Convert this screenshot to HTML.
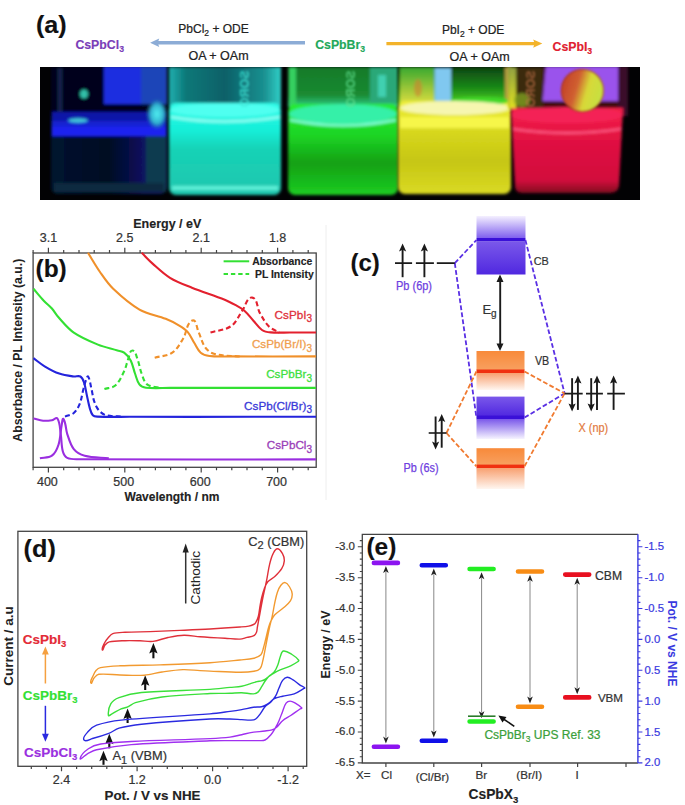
<!DOCTYPE html>
<html><head><meta charset="utf-8"><style>
html,body{margin:0;padding:0;background:#fff;}
svg{display:block;font-family:"Liberation Sans", sans-serif;}
</style></head><body>
<svg width="685" height="805" viewBox="0 0 685 805">

<defs>
  <filter id="blur1" x="-10%" y="-10%" width="120%" height="120%"><feGaussianBlur stdDeviation="0.8"/></filter>
  <filter id="blur2" x="-10%" y="-10%" width="120%" height="120%"><feGaussianBlur stdDeviation="1.6"/></filter>
  <radialGradient id="gCyGlow"><stop offset="0" stop-color="#50f0f0"/><stop offset="0.6" stop-color="#30b0d0"/><stop offset="1" stop-color="#1a50a0" stop-opacity="0"/></radialGradient>
  <linearGradient id="gBlBody" x1="0" y1="0" x2="1" y2="0"><stop offset="0" stop-color="#061430"/><stop offset="0.5" stop-color="#040822"/><stop offset="0.8" stop-color="#081260"/><stop offset="1" stop-color="#0a1a60"/></linearGradient>
  <linearGradient id="gCyUp" x1="0" y1="0" x2="1" y2="0"><stop offset="0" stop-color="#20b0b0"/><stop offset="0.15" stop-color="#0c7878"/><stop offset="0.5" stop-color="#0a6068"/><stop offset="0.85" stop-color="#1a9090"/><stop offset="1" stop-color="#30d0c8"/></linearGradient>
  <linearGradient id="gGrUp" x1="0" y1="0" x2="0" y2="1"><stop offset="0" stop-color="#147a2a"/><stop offset="0.7" stop-color="#1a8a30"/><stop offset="1" stop-color="#30d090"/></linearGradient>
  <linearGradient id="gYeUp" x1="0" y1="0" x2="0" y2="1"><stop offset="0" stop-color="#0e4410"/><stop offset="0.55" stop-color="#1a8a18"/><stop offset="1" stop-color="#58d820"/></linearGradient>
  <linearGradient id="gYeUpL" x1="0" y1="0" x2="0" y2="1"><stop offset="0" stop-color="#38a830"/><stop offset="0.6" stop-color="#a0c838"/><stop offset="1" stop-color="#e0e040"/></linearGradient>
  <linearGradient id="gReEdge" x1="0" y1="0" x2="0" y2="1"><stop offset="0" stop-color="#90a040"/><stop offset="1" stop-color="#e0e020"/></linearGradient>
  <linearGradient id="gCyBody" x1="0" y1="0" x2="0" y2="1"><stop offset="0" stop-color="#30fce8"/><stop offset="0.3" stop-color="#14eed8"/><stop offset="0.5" stop-color="#18d2b6"/><stop offset="1" stop-color="#1cc6ae"/></linearGradient>
  <linearGradient id="gGrBody" x1="0" y1="0" x2="0" y2="1"><stop offset="0" stop-color="#28ec30"/><stop offset="0.35" stop-color="#1cd424"/><stop offset="0.65" stop-color="#12a014"/><stop offset="1" stop-color="#1ccc22"/></linearGradient>
  <linearGradient id="gYeBody" x1="0" y1="0" x2="0" y2="1"><stop offset="0" stop-color="#f0f038"/><stop offset="0.35" stop-color="#d6d61c"/><stop offset="0.65" stop-color="#c6c614"/><stop offset="1" stop-color="#dada24"/></linearGradient>
  <linearGradient id="gReBody" x1="0" y1="0" x2="0" y2="1"><stop offset="0" stop-color="#f42048"/><stop offset="0.4" stop-color="#e01042"/><stop offset="0.85" stop-color="#d20c3c"/><stop offset="1" stop-color="#800820"/></linearGradient>
  <linearGradient id="gBall" x1="0" y1="0" x2="1" y2="0.3"><stop offset="0" stop-color="#c03828"/><stop offset="0.45" stop-color="#d06030"/><stop offset="0.7" stop-color="#d8d838"/><stop offset="1" stop-color="#c8e040"/></linearGradient>
  <linearGradient id="gPurTop" x1="0" y1="0" x2="0" y2="1"><stop offset="0" stop-color="#f4f0ff"/><stop offset="1" stop-color="#8060ee"/></linearGradient>
  <linearGradient id="gPurBody" x1="0" y1="0" x2="0" y2="1"><stop offset="0" stop-color="#7a58ea"/><stop offset="1" stop-color="#5028e0"/></linearGradient>
  <linearGradient id="gPurFade" x1="0" y1="0" x2="0" y2="1"><stop offset="0" stop-color="#7a58ea"/><stop offset="1" stop-color="#f6f4ff"/></linearGradient>
  <linearGradient id="gOraBody" x1="0" y1="0" x2="0" y2="1"><stop offset="0" stop-color="#f88a3a"/><stop offset="1" stop-color="#f8a060"/></linearGradient>
  <linearGradient id="gOraFade" x1="0" y1="0" x2="0" y2="1"><stop offset="0" stop-color="#f8a070"/><stop offset="1" stop-color="#fff6f0"/></linearGradient>
</defs>
<text x="35.9" y="32.6" font-size="23.5" fill="#111" font-weight="bold" text-anchor="start" textLength="30.8" lengthAdjust="spacingAndGlyphs" stroke="#111" stroke-width="0.15">(a)</text>
<text x="75.4" y="48.6" font-size="12.3" fill="#7a3db8" font-weight="bold" text-anchor="start"  stroke="#7a3db8" stroke-width="0.15">CsPbCl<tspan font-size="8.7" dy="3.0">3</tspan></text>
<text x="178.3" y="32.5" font-size="12" fill="#222" font-weight="normal" text-anchor="start"  stroke="#222" stroke-width="0.22">PbCl<tspan font-size="8.5" dy="3.0">2</tspan><tspan dy="-3"> + ODE</tspan></text>
<text x="188.5" y="60" font-size="12.5" fill="#222" font-weight="normal" text-anchor="start"  stroke="#222" stroke-width="0.22">OA + OAm</text>
<line x1="305" y1="42.8" x2="156" y2="42.8" stroke="#8cacd6" stroke-width="3.4"/>
<path d="M150.1,42.8 L159.2,38.6 L157.8,42.8 L159.2,47Z" fill="#8cacd6"/>
<text x="315.2" y="49.0" font-size="12.3" fill="#22a85a" font-weight="bold" text-anchor="start"  stroke="#22a85a" stroke-width="0.15">CsPbBr<tspan font-size="8.7" dy="3.0">3</tspan></text>
<line x1="386.4" y1="43.6" x2="536" y2="43.6" stroke="#f3b32a" stroke-width="3.4"/>
<path d="M542.3,43.6 L533.2,39.4 L534.6,43.6 L533.2,47.8Z" fill="#f3b32a"/>
<text x="441.9" y="34.3" font-size="12" fill="#222" font-weight="normal" text-anchor="start"  stroke="#222" stroke-width="0.22">PbI<tspan font-size="8.5" dy="3.0">2</tspan><tspan dy="-3"> + ODE</tspan></text>
<text x="449.6" y="61" font-size="12.5" fill="#222" font-weight="normal" text-anchor="start"  stroke="#222" stroke-width="0.22">OA + OAm</text>
<text x="552.5" y="51.3" font-size="12.3" fill="#e02030" font-weight="bold" text-anchor="start"  stroke="#e02030" stroke-width="0.15">CsPbI<tspan font-size="8.7" dy="3.0">3</tspan></text>
<g id="photo">
<rect x="40" y="67" width="600" height="133" fill="#020204"/>
<clipPath id="phclip"><rect x="40" y="67" width="600" height="133"/></clipPath>
<g clip-path="url(#phclip)">

    <g filter="url(#blur2)">
      <rect x="51" y="67" width="116" height="50" fill="#03051a"/>
      <rect x="58" y="68" width="4" height="45" fill="#16244e"/>
      <rect x="104" y="66" width="37" height="38" fill="#1c2ee0"/>
      <rect x="141" y="66" width="26" height="38" fill="#1a44b8"/>
      <ellipse cx="84" cy="94" rx="4" ry="4.5" fill="#30c0a8"/>
      <rect x="51" y="112" width="116" height="82" rx="7" fill="url(#gBlBody)"/>
      <rect x="52" y="112" width="114" height="10" fill="#0c18a8"/>
      <rect x="52" y="121" width="114" height="6" fill="#1420d0"/>
      <rect x="52" y="126.5" width="114" height="9.5" fill="#1c24f0"/>
      <ellipse cx="78" cy="120.5" rx="10" ry="2.2" fill="#40c8d8"/>
      <ellipse cx="157" cy="114" rx="11" ry="16" fill="url(#gCyGlow)"/>
      <rect x="146" y="136" width="20" height="56" fill="#0e3a50"/>
      <rect x="54" y="183" width="110" height="9" fill="#0a2a40"/>
    </g>

    <g filter="url(#blur2)">
      <rect x="169" y="67" width="112" height="40" fill="url(#gCyUp)"/>
      <rect x="169" y="103" width="112" height="92" rx="7" fill="url(#gCyBody)"/>
      <ellipse cx="225" cy="110" rx="55" ry="7" fill="#50fff0"/>
      <path d="M171,117 Q225,126 280,117" stroke="#90fff4" stroke-width="2.5" fill="none"/>
      <rect x="172" y="186" width="106" height="4" fill="#5cf0d8"/>
    </g>
    <text transform="translate(248.8,70.5) rotate(90) scale(1,-1)" font-size="12.5" font-weight="bold" fill="#40e8d8" opacity="0.85" filter="url(#blur1)">SORO</text>
    

    <g filter="url(#blur2)">
      <rect x="288" y="67" width="110" height="40" fill="url(#gGrUp)"/>
      <rect x="289" y="67" width="7" height="40" fill="#34d060"/>
      <rect x="370" y="67" width="28" height="36" fill="#2aa878"/>
      <rect x="378" y="75" width="8" height="22" fill="#40d0b0"/>
      <rect x="288" y="104" width="110" height="91" rx="7" fill="url(#gGrBody)"/>
      <ellipse cx="343" cy="114" rx="54" ry="10" fill="#36f0a8"/>
      <path d="M290,120 Q343,131 396,120" stroke="#80fcd8" stroke-width="2.5" fill="none"/>
    </g>
    <text transform="translate(355,70.5) rotate(90) scale(1,-1)" font-size="12.5" font-weight="bold" fill="#60e090" opacity="0.8" filter="url(#blur1)">SORO</text>
    

    <g filter="url(#blur2)">
      <rect x="398" y="67" width="113" height="38" fill="url(#gYeUp)"/>
      <rect x="400" y="67" width="34" height="38" fill="url(#gYeUpL)"/>
      <ellipse cx="418" cy="88" rx="4" ry="9" fill="#d08030" opacity="0.6"/>
      <rect x="434.5" y="68" width="16.5" height="33" fill="#80c8f0"/>
      <rect x="505" y="67" width="6" height="38" fill="#b09a40"/>
      <rect x="398" y="101" width="113" height="93" rx="7" fill="url(#gYeBody)"/>
      <ellipse cx="480" cy="101" rx="30" ry="4" fill="#40d828"/>
      <ellipse cx="455" cy="108" rx="55" ry="7" fill="#f6f6b0"/>
      <rect x="400" y="117" width="109" height="11" fill="#f6f648"/>
    </g>

    <g filter="url(#blur2)">
      <rect x="511" y="67" width="112" height="42" fill="#400810"/>
      <rect x="515" y="67" width="28" height="41" fill="#3a2a10"/>
      <rect x="508" y="67" width="8" height="42" fill="url(#gReEdge)"/>
      <ellipse cx="522" cy="100" rx="8" ry="7" fill="#80a020" opacity="0.8"/>
      <path d="M545.8,66 H618 V101 H542.7Z" fill="#9a52ec"/>
      <rect x="618" y="66" width="10" height="50" fill="#3a0a2a"/>
      <path d="M511,108 H623 L619,186 Q618,193 610,193 H522 Q515,193 515,186Z" fill="url(#gReBody)"/>
      <ellipse cx="567" cy="115" rx="56" ry="8" fill="#f42456"/>
      <path d="M513,129 Q567,137 621,129" stroke="#ff5c88" stroke-width="2" fill="none"/>
    </g>
    <text transform="translate(535,70.5) rotate(90) scale(1,-1)" font-size="12.5" font-weight="bold" fill="#c07048" opacity="0.75" filter="url(#blur1)">SORO</text>
    <g filter="url(#blur1)">
      <circle cx="582.4" cy="90.5" r="21.5" fill="url(#gBall)"/>
      <circle cx="582.4" cy="90.5" r="21" fill="none" stroke="#a03020" stroke-width="1.5" opacity="0.6"/>
    </g>
</g>
</g>
<line x1="326" y1="225" x2="326" y2="500" stroke="#eeeeee" stroke-width="1"/>
<path d="M33.1,467.3 v3.0 M33.1,253.0 v-3.0 M48.4,467.3 v5.3 M48.4,253.0 v-5.3 M63.7,467.3 v3.0 M63.7,253.0 v-3.0 M79.0,467.3 v3.0 M79.0,253.0 v-3.0 M94.2,467.3 v3.0 M94.2,253.0 v-3.0 M109.5,467.3 v3.0 M109.5,253.0 v-3.0 M124.8,467.3 v5.3 M124.8,253.0 v-5.3 M140.1,467.3 v3.0 M140.1,253.0 v-3.0 M155.4,467.3 v3.0 M155.4,253.0 v-3.0 M170.6,467.3 v3.0 M170.6,253.0 v-3.0 M185.9,467.3 v3.0 M185.9,253.0 v-3.0 M201.2,467.3 v5.3 M201.2,253.0 v-5.3 M216.5,467.3 v3.0 M216.5,253.0 v-3.0 M231.8,467.3 v3.0 M231.8,253.0 v-3.0 M247.0,467.3 v3.0 M247.0,253.0 v-3.0 M262.3,467.3 v3.0 M262.3,253.0 v-3.0 M277.6,467.3 v5.3 M277.6,253.0 v-5.3 M292.9,467.3 v3.0 M292.9,253.0 v-3.0 M308.2,467.3 v3.0 M308.2,253.0 v-3.0" stroke="#444" stroke-width="1.2" fill="none"/>
<rect x="33.1" y="253.0" width="283.09999999999997" height="214.3" fill="none" stroke="#444" stroke-width="1.3"/>
<text x="47.4" y="485.6" font-size="12.5" fill="#333" font-weight="normal" text-anchor="middle"  stroke="#333" stroke-width="0.22">400</text>
<text x="123.8" y="485.6" font-size="12.5" fill="#333" font-weight="normal" text-anchor="middle"  stroke="#333" stroke-width="0.22">500</text>
<text x="200.2" y="485.6" font-size="12.5" fill="#333" font-weight="normal" text-anchor="middle"  stroke="#333" stroke-width="0.22">600</text>
<text x="276.6" y="485.6" font-size="12.5" fill="#333" font-weight="normal" text-anchor="middle"  stroke="#333" stroke-width="0.22">700</text>
<text x="48.4" y="241.6" font-size="12.5" fill="#333" font-weight="normal" text-anchor="middle"  stroke="#333" stroke-width="0.22">3.1</text>
<text x="124.8" y="241.6" font-size="12.5" fill="#333" font-weight="normal" text-anchor="middle"  stroke="#333" stroke-width="0.22">2.5</text>
<text x="201.2" y="241.6" font-size="12.5" fill="#333" font-weight="normal" text-anchor="middle"  stroke="#333" stroke-width="0.22">2.1</text>
<text x="277.6" y="241.6" font-size="12.5" fill="#333" font-weight="normal" text-anchor="middle"  stroke="#333" stroke-width="0.22">1.8</text>
<text x="167.3" y="227.8" font-size="12.5" fill="#222" font-weight="bold" text-anchor="middle"  stroke="#222" stroke-width="0.15">Energy / eV</text>
<text x="172" y="500.7" font-size="12" fill="#222" font-weight="bold" text-anchor="middle"  stroke="#222" stroke-width="0.15">Wavelength / nm</text>
<text transform="translate(22.2,350.2) rotate(-90)" font-size="12.25" font-weight="bold" fill="#222" text-anchor="middle">Absorbance / PL Intensity (a.u.)</text>
<text x="35.5" y="277" font-size="24.5" fill="#111" font-weight="bold" text-anchor="start"  stroke="#111" stroke-width="0.15">(b)</text>
<line x1="223.6" y1="261.3" x2="249.2" y2="261.3" stroke="#33e033" stroke-width="2"/>
<line x1="223.6" y1="274.1" x2="249.2" y2="274.1" stroke="#33e033" stroke-width="2" stroke-dasharray="4.4,2.9"/>
<text x="252.2" y="265.1" font-size="10.4" fill="#222" font-weight="bold" text-anchor="start"  stroke="#222" stroke-width="0.15">Absorbance</text>
<text x="255" y="277.9" font-size="10.4" fill="#222" font-weight="bold" text-anchor="start"  stroke="#222" stroke-width="0.15">PL Intensity</text>
<path d="M141.70,252.80 C145.33,256.40 148.77,260.21 152.60,263.60 C158.21,268.56 163.62,273.89 170.00,277.80 C176.83,281.99 184.46,284.72 191.90,287.70 C202.71,292.03 213.89,295.38 224.70,299.70 C228.51,301.22 232.12,303.20 235.70,305.20 C238.70,306.87 241.82,308.44 244.40,310.70 C247.71,313.59 250.24,317.26 253.20,320.50 C256.11,323.69 258.43,327.57 262.00,330.00 C264.49,331.69 267.70,332.13 270.70,332.40 C277.11,332.97 283.57,332.49 290.00,332.50 C298.67,332.52 307.33,332.50 316.00,332.50" stroke="#e3202e" stroke-width="2.1" fill="none" stroke-linecap="butt"/>
<path d="M210.50,332.60 C217.43,330.40 225.31,330.13 231.30,326.00 C236.47,322.44 238.59,315.77 242.30,310.70 C245.52,306.30 246.69,296.92 252.10,297.60 C257.76,298.31 256.94,307.96 259.80,312.90 C262.42,317.44 264.79,322.29 268.50,326.00 C271.52,329.02 275.83,330.40 279.50,332.60" stroke="#e3202e" stroke-width="2.1" fill="none" stroke-dasharray="5,3" stroke-linecap="butt"/>
<path d="M88.00,252.80 C92.00,259.20 95.67,265.82 100.00,272.00 C104.08,277.83 108.04,283.89 113.20,288.80 C121.30,296.51 129.80,304.05 139.50,309.60 C147.54,314.19 157.10,315.37 165.70,318.80 C170.23,320.61 174.62,322.80 178.80,325.30 C181.95,327.18 185.18,329.15 187.60,331.90 C190.41,335.09 191.94,339.21 194.20,342.80 C196.30,346.14 197.71,350.12 200.70,352.70 C203.07,354.75 206.39,355.61 209.50,356.00 C216.28,356.86 223.17,356.37 230.00,356.40 C258.67,356.51 287.33,356.40 316.00,356.40" stroke="#f0902a" stroke-width="2.1" fill="none" stroke-linecap="butt"/>
<path d="M154.70,357.70 C160.57,356.03 167.24,356.11 172.30,352.70 C177.25,349.37 180.04,343.56 183.20,338.50 C186.77,332.78 186.21,323.17 192.40,320.50 C196.36,318.79 196.65,328.01 198.50,331.90 C200.89,336.92 201.91,342.66 205.10,347.20 C207.21,350.20 210.36,352.85 213.90,353.80 C222.35,356.08 231.30,355.67 240.00,356.60" stroke="#f0902a" stroke-width="2.1" fill="none" stroke-dasharray="5,3" stroke-linecap="butt"/>
<path d="M33.50,288.80 C37.00,292.87 40.34,297.08 44.00,301.00 C46.48,303.65 49.49,305.79 51.90,308.50 C54.34,311.24 56.03,314.59 58.50,317.30 C63.35,322.64 67.87,328.49 73.80,332.60 C81.18,337.71 89.60,341.20 97.90,344.60 C104.21,347.19 110.98,348.48 117.50,350.50 C119.72,351.18 122.24,351.31 124.10,352.70 C126.80,354.73 129.13,357.41 130.70,360.40 C132.83,364.47 133.43,369.18 135.00,373.50 C136.34,377.18 137.00,381.30 139.40,384.40 C140.91,386.34 143.56,387.42 146.00,387.70 C153.95,388.61 162.00,387.89 170.00,387.90 C218.67,387.96 267.33,387.90 316.00,387.90" stroke="#33e033" stroke-width="2.1" fill="none" stroke-linecap="butt"/>
<path d="M104.40,389.00 C108.03,387.83 112.46,388.05 115.30,385.50 C119.44,381.78 121.68,376.31 124.10,371.30 C126.11,367.15 126.79,362.48 128.50,358.20 C129.57,355.53 129.52,350.50 132.40,350.50 C135.42,350.50 136.08,355.39 137.20,358.20 C139.17,363.13 139.72,368.54 141.60,373.50 C143.04,377.31 143.94,381.84 147.10,384.40 C150.32,387.01 155.10,386.60 159.10,387.70" stroke="#33e033" stroke-width="2.1" fill="none" stroke-dasharray="5,3" stroke-linecap="butt"/>
<path d="M33.50,358.20 C37.20,360.90 40.67,363.95 44.60,366.30 C49.27,369.10 54.06,371.81 59.20,373.60 C63.88,375.24 68.88,375.83 73.80,376.50 C75.98,376.80 78.49,375.41 80.40,376.50 C82.38,377.62 83.26,380.15 84.00,382.30 C85.46,386.56 85.91,391.10 86.90,395.50 C87.88,399.87 88.61,404.31 89.90,408.60 C90.59,410.90 91.18,413.42 92.80,415.20 C93.84,416.34 95.66,416.53 97.20,416.60 C108.12,417.07 119.07,416.79 130.00,416.80 C192.00,416.86 254.00,416.80 316.00,416.80" stroke="#2424dc" stroke-width="2.1" fill="none" stroke-linecap="butt"/>
<path d="M65.00,416.60 C67.93,415.40 71.38,415.05 73.80,413.00 C76.48,410.73 78.28,407.46 79.60,404.20 C81.49,399.55 82.01,394.45 83.30,389.60 C84.21,386.18 84.98,382.72 86.20,379.40 C86.60,378.31 87.52,375.50 88.10,376.50 C90.13,380.00 90.33,384.27 91.30,388.20 C92.37,392.54 92.78,397.06 94.20,401.30 C95.23,404.38 96.51,407.51 98.60,410.00 C100.52,412.29 103.01,414.43 105.90,415.20 C111.56,416.70 117.57,416.13 123.40,416.60" stroke="#2424dc" stroke-width="2.1" fill="none" stroke-dasharray="5,3" stroke-linecap="butt"/>
<path d="M33.50,418.50 C36.70,419.23 39.83,420.40 43.10,420.70 C46.03,420.97 49.00,420.65 51.90,420.20 C53.80,419.91 56.36,416.89 57.40,418.50 C60.23,422.88 59.85,428.65 60.70,433.80 C61.65,439.60 61.27,445.63 62.80,451.30 C63.49,453.85 64.80,456.80 67.20,457.90 C71.10,459.69 75.71,459.17 80.00,459.20 C158.67,459.67 237.33,459.33 316.00,459.40" stroke="#9a2ee0" stroke-width="2.1" fill="none" stroke-linecap="butt"/>
<path d="M39.90,458.30 C43.90,457.43 48.60,458.12 51.90,455.70 C55.35,453.18 57.20,448.77 58.50,444.70 C60.52,438.36 60.42,431.53 61.70,425.00 C62.09,422.98 62.41,417.36 63.50,419.10 C66.18,423.38 65.56,429.02 67.20,433.80 C69.00,439.05 70.33,444.76 73.80,449.10 C76.45,452.42 80.59,454.62 84.70,455.70 C92.51,457.75 100.77,457.43 108.80,458.30" stroke="#9a2ee0" stroke-width="2.1" fill="none" stroke-linecap="butt"/>
<text x="312" y="318.8" font-size="11.7" fill="#e0303c" font-weight="normal" text-anchor="end" stroke-width="0.3" stroke="#e0303c">CsPbI<tspan font-size="10" dy="3.6">3</tspan></text>
<text x="312" y="347.9" font-size="11.7" fill="#f0a050" font-weight="normal" text-anchor="end" stroke-width="0.3" stroke="#f0a050">CsPb(Br/I)<tspan font-size="10" dy="3.6">3</tspan></text>
<text x="312" y="378.2" font-size="11.7" fill="#40e040" font-weight="normal" text-anchor="end" stroke-width="0.3" stroke="#40e040">CsPbBr<tspan font-size="10" dy="3.6">3</tspan></text>
<text x="312" y="409.8" font-size="11.7" fill="#3a3ad8" font-weight="normal" text-anchor="end" stroke-width="0.3" stroke="#3a3ad8">CsPb(Cl/Br)<tspan font-size="10" dy="3.6">3</tspan></text>
<text x="312" y="448.9" font-size="11.7" fill="#9a40b8" font-weight="normal" text-anchor="end" stroke-width="0.3" stroke="#9a40b8">CsPbCl<tspan font-size="10" dy="3.6">3</tspan></text>
<text x="350.4" y="270.7" font-size="24" fill="#111" font-weight="bold" text-anchor="start"  stroke="#111" stroke-width="0.15">(c)</text>

    <rect x="476.5" y="216" width="49" height="22" fill="url(#gPurTop)"/>
    <rect x="476.5" y="238" width="49" height="3.6" fill="#3a10d8"/>
    <rect x="476.5" y="241.5" width="49" height="33" fill="url(#gPurBody)"/>
    <rect x="476.5" y="351" width="48" height="19" fill="url(#gOraBody)"/>
    <rect x="476.5" y="369.5" width="48" height="3.6" fill="#f03010"/>
    <rect x="476.5" y="373" width="48" height="17" fill="url(#gOraFade)"/>
    <rect x="476.5" y="396.6" width="48" height="19.5" fill="url(#gPurBody)"/>
    <rect x="476.5" y="415.6" width="48" height="3.6" fill="#3a10d8"/>
    <rect x="476.5" y="419" width="48" height="20" fill="url(#gPurFade)"/>
    <rect x="476.5" y="448.2" width="48" height="17" fill="url(#gOraBody)"/>
    <rect x="476.5" y="464.6" width="48" height="3.6" fill="#f03010"/>
    <rect x="476.5" y="468" width="48" height="21" fill="url(#gOraFade)"/>
    
<path d="M454.8,263.1 L476.5,240 M454.8,263.1 L476.5,418 M525.4,240 L564.6,393.4 M524.5,417.6 L564.6,393.4" stroke="#5a30e4" stroke-dasharray="4.8,2.3" stroke-width="1.8" fill="none"/>
<path d="M446.5,433 L476.4,371.5 M446.5,433 L476.4,466.3 M524.5,371.5 L564.6,393.4 M524.5,466.3 L564.6,393.4" stroke="#f07a30" stroke-dasharray="4.8,2.3" stroke-width="1.8" fill="none"/>
<path d="M395,263.1 H412.1 M415.9,263.1 H433.9 M436.8,263.1 H454.8" stroke="#1a1a1a" stroke-width="1.6"/>
<path d="M564.6,393.6 H582.7 M586,393.6 H602.9 M607.2,393.6 H624.9" stroke="#1a1a1a" stroke-width="1.8"/>
<path d="M428.7,433 H446.5" stroke="#1a1a1a" stroke-width="1.6"/>
<path d="M402.6,277.2 V248.5" stroke="#1a1a1a" stroke-width="1.9" fill="none"/>
<path d="M402.6,243.5 L399.0,251.5 L402.6,249.8 L406.20000000000005,251.5Z" fill="#1a1a1a"/>
<path d="M424.4,277.2 V248.5" stroke="#1a1a1a" stroke-width="1.9" fill="none"/>
<path d="M424.4,243.5 L420.79999999999995,251.5 L424.4,249.8 L428.0,251.5Z" fill="#1a1a1a"/>
<path d="M572.1,378.2 V406.4" stroke="#1a1a1a" stroke-width="1.9" fill="none"/>
<path d="M572.1,411.4 L568.5,403.4 L572.1,405.09999999999997 L575.7,403.4Z" fill="#1a1a1a"/>
<path d="M577.9,409.9 V380.6" stroke="#1a1a1a" stroke-width="1.9" fill="none"/>
<path d="M577.9,375.6 L574.3,383.6 L577.9,381.90000000000003 L581.5,383.6Z" fill="#1a1a1a"/>
<path d="M591.2,378.2 V406.4" stroke="#1a1a1a" stroke-width="1.9" fill="none"/>
<path d="M591.2,411.4 L587.6,403.4 L591.2,405.09999999999997 L594.8000000000001,403.4Z" fill="#1a1a1a"/>
<path d="M597,409.9 V380.6" stroke="#1a1a1a" stroke-width="1.9" fill="none"/>
<path d="M597,375.6 L593.4,383.6 L597,381.90000000000003 L600.6,383.6Z" fill="#1a1a1a"/>
<path d="M613.6,409.9 V380.6" stroke="#1a1a1a" stroke-width="1.9" fill="none"/>
<path d="M613.6,375.6 L610.0,383.6 L613.6,381.90000000000003 L617.2,383.6Z" fill="#1a1a1a"/>
<path d="M435.6,416.5 V444.5" stroke="#1a1a1a" stroke-width="1.9" fill="none"/>
<path d="M435.6,449.5 L432.0,441.5 L435.6,443.2 L439.20000000000005,441.5Z" fill="#1a1a1a"/>
<path d="M441.7,447.7 V418.9" stroke="#1a1a1a" stroke-width="1.9" fill="none"/>
<path d="M441.7,413.9 L438.09999999999997,421.9 L441.7,420.2 L445.3,421.9Z" fill="#1a1a1a"/>
<path d="M500.2,278 V347" stroke="#1a1a1a" stroke-width="1.9"/>
<path d="M500,274.5 L496.5,282 L503.5,282Z M500,351 L496.5,343.5 L503.5,343.5Z" fill="#1a1a1a"/>
<text x="482.4" y="314" font-size="13" fill="#333" font-weight="normal" text-anchor="start"  stroke="#333" stroke-width="0.22">E<tspan font-size="10" dy="3">g</tspan></text>
<text x="533.7" y="265.1" font-size="11.8" fill="#333" font-weight="normal" text-anchor="start" textLength="15.1" lengthAdjust="spacingAndGlyphs" stroke="#333" stroke-width="0.22">CB</text>
<text x="534.9" y="364.6" font-size="12.6" fill="#333" font-weight="normal" text-anchor="start" textLength="14.3" lengthAdjust="spacingAndGlyphs" stroke="#333" stroke-width="0.22">VB</text>
<text x="396" y="290.2" font-size="12" fill="#6e40e0" font-weight="normal" text-anchor="start" textLength="36" lengthAdjust="spacingAndGlyphs" stroke="#6e40e0" stroke-width="0.25">Pb (6p)</text>
<text x="403.5" y="472" font-size="12" fill="#6e40e0" font-weight="normal" text-anchor="start" textLength="35" lengthAdjust="spacingAndGlyphs" stroke="#6e40e0" stroke-width="0.25">Pb (6s)</text>
<text x="578.6" y="431.5" font-size="12.8" fill="#e27a40" font-weight="normal" text-anchor="start" textLength="29.6" lengthAdjust="spacingAndGlyphs" stroke="#e27a40" stroke-width="0.22">X (np)</text>
<path d="M31.3,766.3 v2.8 M46.4,766.3 v2.8 M61.5,766.3 v5 M76.6,766.3 v2.8 M91.7,766.3 v2.8 M106.8,766.3 v2.8 M122.0,766.3 v2.8 M137.1,766.3 v5 M152.2,766.3 v2.8 M167.3,766.3 v2.8 M182.4,766.3 v2.8 M197.5,766.3 v2.8 M212.6,766.3 v5 M227.7,766.3 v2.8 M242.8,766.3 v2.8 M257.9,766.3 v2.8 M273.0,766.3 v2.8 M288.1,766.3 v5 M303.2,766.3 v2.8" stroke="#444" stroke-width="1.2" fill="none"/>
<rect x="17.9" y="531.3" width="288.8" height="235.0" fill="none" stroke="#444" stroke-width="1.3"/>
<text x="61.5" y="784" font-size="12.5" fill="#333" font-weight="normal" text-anchor="middle"  stroke="#333" stroke-width="0.22">2.4</text>
<text x="137.1" y="784" font-size="12.5" fill="#333" font-weight="normal" text-anchor="middle"  stroke="#333" stroke-width="0.22">1.2</text>
<text x="212.6" y="784" font-size="12.5" fill="#333" font-weight="normal" text-anchor="middle"  stroke="#333" stroke-width="0.22">0.0</text>
<text x="288.1" y="784" font-size="12.5" fill="#333" font-weight="normal" text-anchor="middle"  stroke="#333" stroke-width="0.22">-1.2</text>
<text x="152.5" y="800" font-size="13.4" fill="#222" font-weight="bold" text-anchor="middle"  stroke="#222" stroke-width="0.15">Pot. / V vs NHE</text>
<text transform="translate(13.2,646) rotate(-90)" font-size="13.5" font-weight="bold" fill="#222" text-anchor="middle">Current / a.u</text>
<text x="23.6" y="557" font-size="24" fill="#111" font-weight="bold" text-anchor="start" textLength="32.2" lengthAdjust="spacingAndGlyphs" stroke="#111" stroke-width="0.15">(d)</text>
<path d="M185.7,603.5 V552" stroke="#333" stroke-width="1.5"/><path d="M185.7,543.4 L182.6,552.5 L188.8,552.5Z" fill="#222"/>
<text transform="translate(199.8,604.5) rotate(-90)" font-size="13.6" fill="#222">Cathodic</text>
<text x="248.3" y="545.6" font-size="12.8" fill="#333" font-weight="normal" text-anchor="start"  stroke="#333" stroke-width="0.22">C<tspan font-size="11" dy="3.6">2</tspan><tspan dy="-3.6"> (CBM)</tspan></text>
<text x="112.5" y="760" font-size="12.8" fill="#333" font-weight="normal" text-anchor="start"  stroke="#333" stroke-width="0.22">A<tspan font-size="11" dy="3.6">1</tspan><tspan dy="-3.6"> (VBM)</tspan></text>
<text x="22.8" y="643.5" font-size="13.5" fill="#e32a36" font-weight="bold" text-anchor="start"  stroke="#e32a36" stroke-width="0.15">CsPbI<tspan font-size="9.5" dy="3.3">3</tspan></text>
<text x="22.8" y="699.5" font-size="13.5" fill="#33e033" font-weight="bold" text-anchor="start"  stroke="#33e033" stroke-width="0.15">CsPbBr<tspan font-size="9.5" dy="3.3">3</tspan></text>
<text x="24" y="756.5" font-size="13.5" fill="#9a30e0" font-weight="bold" text-anchor="start"  stroke="#9a30e0" stroke-width="0.15">CsPbCl<tspan font-size="9.5" dy="3.3">3</tspan></text>
<path d="M45.4,683.5 V653" stroke="#f5a040" stroke-width="1.5"/><path d="M45.4,646.5 L42,654.5 L48.8,654.5Z" fill="#f5a040"/>
<path d="M45.4,705.8 V735" stroke="#2a2ae0" stroke-width="1.5"/><path d="M45.4,741.8 L42,733.8 L48.8,733.8Z" fill="#2a2ae0"/>
<path d="M153.4,658.3 V649.5" stroke="#111" stroke-width="2.1" fill="none"/>
<path d="M153.4,643.0 L149.20000000000002,653.5 L153.4,651.5 L157.6,653.5Z" fill="#111"/>
<path d="M145.2,690 V681.7" stroke="#111" stroke-width="2.1" fill="none"/>
<path d="M145.2,675.2 L141.0,685.7 L145.2,683.7 L149.39999999999998,685.7Z" fill="#111"/>
<path d="M127.6,723 V715.1" stroke="#111" stroke-width="2.1" fill="none"/>
<path d="M127.6,708.6 L123.39999999999999,719.1 L127.6,717.1 L131.79999999999998,719.1Z" fill="#111"/>
<path d="M109.3,748.3 V740.3" stroke="#111" stroke-width="2.1" fill="none"/>
<path d="M109.3,733.8 L105.1,744.3 L109.3,742.3 L113.5,744.3Z" fill="#111"/>
<path d="M103.5,764.8 V757.3" stroke="#111" stroke-width="2.1" fill="none"/>
<path d="M103.5,750.8 L99.3,761.3 L103.5,759.3 L107.7,761.3Z" fill="#111"/>
<path d="M102.30,649.80 C101.72,647.49 103.46,645.15 104.50,643.00 C105.38,641.17 106.65,639.52 108.00,638.00 C109.43,636.40 110.76,634.38 112.80,633.70 C116.68,632.40 120.91,632.53 125.00,632.30 C133.32,631.83 141.67,631.89 150.00,631.60 C160.00,631.25 170.00,630.83 180.00,630.40 C190.00,629.97 200.01,629.57 210.00,629.00 C220.01,628.43 230.01,627.75 240.00,627.00 C242.91,626.78 245.83,626.63 248.70,626.10 C250.36,625.79 251.99,625.25 253.50,624.50 C254.37,624.07 255.20,623.43 255.70,622.60 C256.84,620.70 257.74,618.64 258.30,616.50 C259.19,613.10 259.38,609.56 260.00,606.10 C260.52,603.19 260.99,600.27 261.70,597.40 C262.43,594.46 263.20,591.52 264.30,588.70 C265.24,586.27 266.10,583.68 267.80,581.70 C269.70,579.50 272.68,578.49 274.80,576.50 C277.34,574.13 279.89,571.66 281.70,568.70 C283.13,566.36 284.13,563.64 284.30,560.90 C284.45,558.50 283.78,555.99 282.60,553.90 C281.39,551.77 279.85,548.70 277.40,548.70 C275.13,548.70 274.02,551.87 273.00,553.90 C271.37,557.16 270.47,560.76 269.60,564.30 C268.47,568.91 267.90,573.64 267.00,578.30 C266.44,581.21 265.81,584.10 265.20,587.00 C264.35,591.04 263.41,595.05 262.60,599.10 C261.68,603.72 260.86,608.37 260.00,613.00 C259.13,617.67 258.25,622.33 257.40,627.00 C257.08,628.73 257.16,630.57 256.50,632.20 C255.96,633.55 255.17,635.00 253.90,635.70 C251.82,636.84 249.30,636.84 247.00,637.40 C244.67,637.97 242.40,639.01 240.00,639.10 C234.99,639.28 230.00,638.47 225.00,638.20 C220.00,637.93 215.00,637.78 210.00,637.50 C206.66,637.31 203.33,637.09 200.00,636.80 C194.66,636.33 189.36,635.08 184.00,635.20 C178.61,635.32 173.28,636.44 168.00,637.50 C162.93,638.51 158.13,640.80 153.00,641.40 C148.69,641.91 144.34,640.91 140.00,640.80 C135.00,640.68 130.00,640.52 125.00,640.70 C119.75,640.89 114.43,640.80 109.30,641.90 C107.57,642.27 106.17,643.68 105.00,645.00 C103.78,646.37 102.75,651.58 102.30,649.80Z" stroke="#e0303a" stroke-width="1.4" fill="none"/>
<path d="M90.90,683.00 C89.81,680.82 92.08,678.26 93.00,676.00 C93.79,674.07 94.61,672.06 96.00,670.50 C97.19,669.17 98.75,667.94 100.50,667.60 C106.91,666.35 113.48,666.10 120.00,665.80 C133.32,665.20 146.67,665.34 160.00,664.90 C176.67,664.34 193.35,663.82 210.00,662.80 C220.02,662.19 230.01,661.02 240.00,660.00 C244.64,659.52 249.37,659.43 253.90,658.30 C256.43,657.67 259.14,656.73 260.90,654.80 C262.58,652.96 262.79,650.18 263.50,647.80 C264.52,644.38 265.23,640.87 266.10,637.40 C266.97,633.93 267.68,630.43 268.70,627.00 C269.32,624.92 270.03,622.84 271.00,620.90 C272.07,618.76 273.15,616.53 274.80,614.80 C277.37,612.11 280.72,610.28 283.50,607.80 C285.93,605.64 288.67,603.66 290.40,600.90 C291.68,598.86 292.34,596.31 292.20,593.90 C292.06,591.45 290.89,589.09 289.60,587.00 C288.51,585.24 287.23,583.02 285.20,582.60 C283.56,582.26 281.96,583.90 280.90,585.20 C279.25,587.22 278.26,589.74 277.40,592.20 C276.22,595.57 275.55,599.11 274.80,602.60 C273.81,607.21 273.18,611.89 272.20,616.50 C271.45,620.03 270.37,623.48 269.60,627.00 C268.34,632.75 267.26,638.53 266.10,644.30 C264.93,650.10 264.03,655.96 262.60,661.70 C262.00,664.11 261.67,666.86 260.00,668.70 C258.52,670.34 256.08,670.92 253.90,671.30 C249.33,672.10 244.64,672.22 240.00,672.20 C229.99,672.15 220.00,671.50 210.00,671.10 C206.67,670.97 203.33,670.79 200.00,670.60 C194.33,670.29 188.67,669.39 183.00,669.60 C175.96,669.86 168.97,670.99 162.00,672.00 C156.07,672.86 150.28,674.77 144.30,675.20 C136.22,675.78 128.10,675.16 120.00,675.00 C112.93,674.86 105.82,673.49 98.80,674.30 C96.79,674.53 95.36,676.50 94.00,678.00 C92.68,679.45 91.78,684.75 90.90,683.00Z" stroke="#f29a30" stroke-width="1.4" fill="none"/>
<path d="M108.40,715.40 C107.97,711.43 108.86,707.13 110.90,703.70 C112.63,700.80 115.83,698.76 119.00,697.60 C126.22,694.96 133.84,693.19 141.50,692.50 C164.26,690.45 187.18,690.71 210.00,689.40 C216.69,689.01 223.33,688.05 230.00,687.40 C233.90,687.02 237.84,686.98 241.70,686.30 C244.50,685.81 247.18,684.74 249.90,683.90 C252.25,683.17 254.53,682.23 256.90,681.60 C258.40,681.20 260.00,681.23 261.50,680.80 C262.72,680.45 263.92,679.96 265.00,679.30 C266.67,678.28 268.09,676.91 269.70,675.80 C271.23,674.74 272.78,673.71 274.40,672.80 C276.28,671.74 278.21,670.75 280.20,669.90 C283.65,668.42 287.29,667.38 290.70,665.80 C293.14,664.67 295.50,663.34 297.70,661.80 C298.22,661.44 299.09,660.70 298.70,660.20 C296.90,657.89 294.51,656.02 292.00,654.50 C289.38,652.91 286.54,650.60 283.50,651.00 C281.57,651.25 281.24,654.20 280.50,656.00 C279.35,658.80 279.00,661.88 277.90,664.70 C276.96,667.13 275.97,669.62 274.40,671.70 C273.18,673.33 271.15,674.17 269.70,675.60 C268.17,677.11 266.76,678.76 265.50,680.50 C264.02,682.54 262.87,684.79 261.50,686.90 C260.37,688.65 259.58,690.73 258.00,692.10 C256.75,693.18 255.05,693.84 253.40,693.90 C249.48,694.04 245.62,692.80 241.70,692.70 C237.80,692.60 233.90,693.20 230.00,693.30 C223.34,693.47 216.66,693.14 210.00,693.50 C193.98,694.37 177.92,695.04 162.00,697.00 C153.00,698.11 144.10,700.15 135.40,702.70 C132.41,703.58 130.07,705.98 127.20,707.20 C125.27,708.02 123.02,707.95 121.10,708.80 C117.92,710.20 115.09,712.30 112.00,713.90 C110.85,714.50 108.54,716.69 108.40,715.40Z" stroke="#3ae03a" stroke-width="1.4" fill="none"/>
<path d="M83.90,739.90 C82.30,737.09 86.28,733.75 88.40,731.30 C90.63,728.72 93.38,726.30 96.60,725.20 C104.49,722.50 112.80,720.93 121.10,720.10 C150.66,717.15 180.39,716.27 210.00,713.90 C216.70,713.36 223.34,712.30 230.00,711.40 C233.91,710.87 237.81,710.28 241.70,709.60 C245.62,708.91 249.47,707.88 253.40,707.30 C256.08,706.91 258.82,707.12 261.50,706.70 C262.72,706.51 263.90,706.05 265.00,705.50 C266.65,704.68 268.22,703.70 269.70,702.60 C271.37,701.36 272.54,699.42 274.40,698.50 C276.94,697.24 279.83,696.84 282.60,696.20 C286.44,695.31 290.49,695.24 294.20,693.90 C297.58,692.68 300.49,690.41 303.60,688.60 C303.99,688.37 305.03,688.12 304.70,687.80 C303.40,686.54 301.49,686.12 300.00,685.10 C297.62,683.48 295.56,681.40 293.10,679.90 C291.26,678.78 289.35,677.20 287.20,677.30 C285.35,677.39 283.72,678.93 282.60,680.40 C280.89,682.62 280.15,685.44 279.00,688.00 C277.78,690.71 276.99,693.63 275.50,696.20 C274.26,698.34 272.64,700.26 270.90,702.00 C269.12,703.78 266.68,704.83 265.00,706.70 C263.14,708.78 262.08,711.47 260.40,713.70 C258.98,715.58 257.65,717.67 255.70,719.00 C254.37,719.91 252.61,720.03 251.00,720.10 C247.90,720.23 244.80,719.76 241.70,719.60 C237.80,719.40 233.90,719.07 230.00,719.00 C223.33,718.87 216.66,718.61 210.00,719.00 C187.14,720.34 164.28,721.90 141.50,724.20 C133.92,724.97 126.33,726.14 119.00,728.20 C115.33,729.23 112.36,732.02 108.80,733.40 C103.49,735.46 98.01,737.06 92.50,738.50 C89.69,739.23 85.34,742.42 83.90,739.90Z" stroke="#2a2ae0" stroke-width="1.4" fill="none"/>
<path d="M80.20,758.30 C81.01,754.17 84.95,751.11 88.40,748.70 C92.00,746.19 96.37,744.73 100.70,744.00 C110.79,742.31 121.08,742.00 131.30,741.50 C157.52,740.20 183.77,739.77 210.00,738.60 C216.68,738.30 223.36,737.92 230.00,737.10 C233.95,736.61 237.81,735.52 241.70,734.70 C245.21,733.96 248.66,732.96 252.20,732.40 C256.44,731.73 260.74,731.56 265.00,731.00 C267.35,730.69 269.75,730.53 272.00,729.80 C273.70,729.25 275.34,728.37 276.70,727.20 C278.92,725.29 280.35,722.58 282.60,720.70 C285.06,718.64 288.04,717.29 290.70,715.50 C293.84,713.39 296.88,711.14 300.00,709.00 C300.58,708.60 302.24,708.45 301.80,707.90 C300.16,705.83 297.69,704.53 295.40,703.20 C293.76,702.25 292.00,701.10 290.10,701.10 C288.59,701.10 286.99,701.98 286.10,703.20 C284.35,705.60 283.72,708.65 282.60,711.40 C281.35,714.48 280.33,717.65 279.00,720.70 C277.96,723.09 276.81,725.44 275.50,727.70 C274.10,730.12 272.71,732.58 270.90,734.70 C269.18,736.71 267.36,738.81 265.00,740.00 C263.26,740.88 261.14,740.57 259.20,740.60 C249.47,740.77 239.73,740.56 230.00,740.60 C223.33,740.63 216.66,740.53 210.00,740.80 C183.76,741.86 157.48,742.55 131.30,744.60 C119.64,745.51 108.04,747.30 96.60,749.70 C93.31,750.39 90.37,752.24 87.40,753.80 C84.89,755.11 79.66,761.08 80.20,758.30Z" stroke="#a030f0" stroke-width="1.4" fill="none"/>
<path d="M362.3,540.6 h-2.5 M362.3,546.8 h-4.5 M362.3,553.0 h-2.5 M362.3,559.1 h-2.5 M362.3,565.3 h-2.5 M362.3,571.5 h-2.5 M362.3,577.7 h-4.5 M362.3,583.8 h-2.5 M362.3,590.0 h-2.5 M362.3,596.2 h-2.5 M362.3,602.4 h-2.5 M362.3,608.5 h-4.5 M362.3,614.7 h-2.5 M362.3,620.9 h-2.5 M362.3,627.1 h-2.5 M362.3,633.2 h-2.5 M362.3,639.4 h-4.5 M362.3,645.6 h-2.5 M362.3,651.8 h-2.5 M362.3,657.9 h-2.5 M362.3,664.1 h-2.5 M362.3,670.3 h-4.5 M362.3,676.5 h-2.5 M362.3,682.6 h-2.5 M362.3,688.8 h-2.5 M362.3,695.0 h-2.5 M362.3,701.1 h-4.5 M362.3,707.3 h-2.5 M362.3,713.5 h-2.5 M362.3,719.7 h-2.5 M362.3,725.8 h-2.5 M362.3,732.0 h-4.5 M362.3,738.2 h-2.5 M362.3,744.4 h-2.5 M362.3,750.5 h-2.5 M362.3,756.7 h-2.5 M362.3,762.9 h-4.5" stroke="#444" stroke-width="1.1" fill="none"/>
<path d="M637.9,540.6 h2.5 M637.9,546.8 h4.5 M637.9,553.0 h2.5 M637.9,559.1 h2.5 M637.9,565.3 h2.5 M637.9,571.5 h2.5 M637.9,577.7 h4.5 M637.9,583.8 h2.5 M637.9,590.0 h2.5 M637.9,596.2 h2.5 M637.9,602.4 h2.5 M637.9,608.5 h4.5 M637.9,614.7 h2.5 M637.9,620.9 h2.5 M637.9,627.1 h2.5 M637.9,633.2 h2.5 M637.9,639.4 h4.5 M637.9,645.6 h2.5 M637.9,651.8 h2.5 M637.9,657.9 h2.5 M637.9,664.1 h2.5 M637.9,670.3 h4.5 M637.9,676.5 h2.5 M637.9,682.6 h2.5 M637.9,688.8 h2.5 M637.9,695.0 h2.5 M637.9,701.1 h4.5 M637.9,707.3 h2.5 M637.9,713.5 h2.5 M637.9,719.7 h2.5 M637.9,725.8 h2.5 M637.9,732.0 h4.5 M637.9,738.2 h2.5 M637.9,744.4 h2.5 M637.9,750.5 h2.5 M637.9,756.7 h2.5 M637.9,762.9 h4.5" stroke="#3a3ae0" stroke-width="1.1" fill="none"/>
<path d="M385.9,763.0 v4 M433.8,763.0 v4 M481.6,763.0 v4 M530,763.0 v4 M577.6,763.0 v4 M626,763.0 v4" stroke="#444" stroke-width="1.2"/>
<path d="M637.9,534.3 H362.3 V763.0 H637.9" stroke="#444" stroke-width="1.3" fill="none"/>
<path d="M637.9,534.3 V763.0" stroke="#3a3ae0" stroke-width="1.4" fill="none"/>
<text x="355" y="550.2" font-size="11.5" fill="#333" font-weight="normal" text-anchor="end"  stroke="#333" stroke-width="0.22">-3.0</text>
<text x="355" y="581.1" font-size="11.5" fill="#333" font-weight="normal" text-anchor="end"  stroke="#333" stroke-width="0.22">-3.5</text>
<text x="355" y="611.9" font-size="11.5" fill="#333" font-weight="normal" text-anchor="end"  stroke="#333" stroke-width="0.22">-4.0</text>
<text x="355" y="642.8" font-size="11.5" fill="#333" font-weight="normal" text-anchor="end"  stroke="#333" stroke-width="0.22">-4.5</text>
<text x="355" y="673.7" font-size="11.5" fill="#333" font-weight="normal" text-anchor="end"  stroke="#333" stroke-width="0.22">-5.0</text>
<text x="355" y="704.5" font-size="11.5" fill="#333" font-weight="normal" text-anchor="end"  stroke="#333" stroke-width="0.22">-5.5</text>
<text x="355" y="735.4" font-size="11.5" fill="#333" font-weight="normal" text-anchor="end"  stroke="#333" stroke-width="0.22">-6.0</text>
<text x="355" y="766.3" font-size="11.5" fill="#333" font-weight="normal" text-anchor="end"  stroke="#333" stroke-width="0.22">-6.5</text>
<text x="644.5" y="550.3" font-size="11.3" fill="#3a3ae0" font-weight="normal" text-anchor="start"  stroke="#3a3ae0" stroke-width="0.22">-1.5</text>
<text x="644.5" y="581.2" font-size="11.3" fill="#3a3ae0" font-weight="normal" text-anchor="start"  stroke="#3a3ae0" stroke-width="0.22">-1.0</text>
<text x="644.5" y="612.0" font-size="11.3" fill="#3a3ae0" font-weight="normal" text-anchor="start"  stroke="#3a3ae0" stroke-width="0.22">-0.5</text>
<text x="644.5" y="642.9" font-size="11.3" fill="#3a3ae0" font-weight="normal" text-anchor="start"  stroke="#3a3ae0" stroke-width="0.22">0.0</text>
<text x="644.5" y="673.8" font-size="11.3" fill="#3a3ae0" font-weight="normal" text-anchor="start"  stroke="#3a3ae0" stroke-width="0.22">0.5</text>
<text x="644.5" y="704.6" font-size="11.3" fill="#3a3ae0" font-weight="normal" text-anchor="start"  stroke="#3a3ae0" stroke-width="0.22">1.0</text>
<text x="644.5" y="735.5" font-size="11.3" fill="#3a3ae0" font-weight="normal" text-anchor="start"  stroke="#3a3ae0" stroke-width="0.22">1.5</text>
<text x="644.5" y="766.4" font-size="11.3" fill="#3a3ae0" font-weight="normal" text-anchor="start"  stroke="#3a3ae0" stroke-width="0.22">2.0</text>
<text transform="translate(329.6,644.5) rotate(-90)" font-size="12.5" font-weight="bold" fill="#222" text-anchor="middle">Energy / eV</text>
<text transform="translate(668.3,643.4) rotate(90)" font-size="12" font-weight="bold" fill="#3a3ae0" text-anchor="middle">Pot. / V vs NHE</text>
<text x="366.4" y="555.2" font-size="24.5" fill="#111" font-weight="bold" text-anchor="start"  stroke="#111" stroke-width="0.15">(e)</text>
<path d="M373.9,562.9 H397.9 M373.9,746.8 H397.9" stroke="#8c14f0" stroke-width="4.6" stroke-linecap="round"/>
<path d="M385.9,571.9 V737.8" stroke="#888" stroke-width="1"/>
<path d="M385.9,566.1 l-2.8,7 l2.8,-1.8 l2.8,1.8Z M385.9,743.6 l-2.8,-7 l2.8,1.8 l2.8,-1.8Z" fill="#222"/>
<path d="M421.8,565.3 H445.8 M421.8,740.7 H445.8" stroke="#1010e8" stroke-width="4.6" stroke-linecap="round"/>
<path d="M433.8,574.3 V731.7" stroke="#888" stroke-width="1"/>
<path d="M433.8,568.5 l-2.8,7 l2.8,-1.8 l2.8,1.8Z M433.8,737.5 l-2.8,-7 l2.8,1.8 l2.8,-1.8Z" fill="#222"/>
<path d="M469.6,569.0 H493.6 M469.6,721.5 H493.6" stroke="#22ee22" stroke-width="4.6" stroke-linecap="round"/>
<path d="M481.6,578.0 V712.5" stroke="#888" stroke-width="1"/>
<path d="M481.6,572.2 l-2.8,7 l2.8,-1.8 l2.8,1.8Z M481.6,718.3 l-2.8,-7 l2.8,1.8 l2.8,-1.8Z" fill="#222"/>
<path d="M518,571.5 H542 M518,706.7 H542" stroke="#f88c14" stroke-width="4.6" stroke-linecap="round"/>
<path d="M530,580.5 V697.7" stroke="#888" stroke-width="1"/>
<path d="M530,574.7 l-2.8,7 l2.8,-1.8 l2.8,1.8Z M530,703.5 l-2.8,-7 l2.8,1.8 l2.8,-1.8Z" fill="#222"/>
<path d="M565.2,574.6 H589.2 M565.2,697.4 H589.2" stroke="#e81020" stroke-width="4.6" stroke-linecap="round"/>
<path d="M577.2,583.6 V688.4" stroke="#888" stroke-width="1"/>
<path d="M577.2,577.8 l-2.8,7 l2.8,-1.8 l2.8,1.8Z M577.2,694.2 l-2.8,-7 l2.8,1.8 l2.8,-1.8Z" fill="#222"/>
<path d="M468,716.2 H495.5" stroke="#2a7a2a" stroke-width="1.6"/>
<path d="M514.3,726.3 L502,718" stroke="#111" stroke-width="1.6"/><path d="M498.4,715.5 L506.5,717 L502.5,722.5Z" fill="#111"/>
<text x="484.4" y="738.5" font-size="12" fill="#3aa03a" font-weight="normal" text-anchor="start"  stroke="#3aa03a" stroke-width="0.22">CsPbBr<tspan font-size="8.5" dy="3.0">3</tspan><tspan dy="-3"> UPS Ref. 33</tspan></text>
<text x="595" y="580.3" font-size="12.2" fill="#333" font-weight="normal" text-anchor="start"  stroke="#333" stroke-width="0.22">CBM</text>
<text x="597.9" y="702.2" font-size="11.6" fill="#333" font-weight="normal" text-anchor="start"  stroke="#333" stroke-width="0.22">VBM</text>
<text x="356" y="778.6" font-size="11.5" fill="#333" font-weight="normal" text-anchor="start"  stroke="#333" stroke-width="0.22">X=</text>
<text x="386.6" y="779" font-size="11.6" fill="#333" font-weight="normal" text-anchor="middle"  stroke="#333" stroke-width="0.22">Cl</text>
<text x="432.4" y="780.8" font-size="11.6" fill="#333" font-weight="normal" text-anchor="middle"  stroke="#333" stroke-width="0.22">(Cl/Br)</text>
<text x="481.3" y="779" font-size="11.6" fill="#333" font-weight="normal" text-anchor="middle"  stroke="#333" stroke-width="0.22">Br</text>
<text x="529.2" y="779.2" font-size="11.6" fill="#333" font-weight="normal" text-anchor="middle"  stroke="#333" stroke-width="0.22">(Br/I)</text>
<text x="577.2" y="779" font-size="11.6" fill="#333" font-weight="normal" text-anchor="middle"  stroke="#333" stroke-width="0.22">I</text>
<text x="468.5" y="799.2" font-size="13.8" fill="#222" font-weight="bold" text-anchor="start"  stroke="#222" stroke-width="0.15">CsPbX<tspan font-size="9.5" dy="3.3">3</tspan></text>
</svg>
</body></html>
